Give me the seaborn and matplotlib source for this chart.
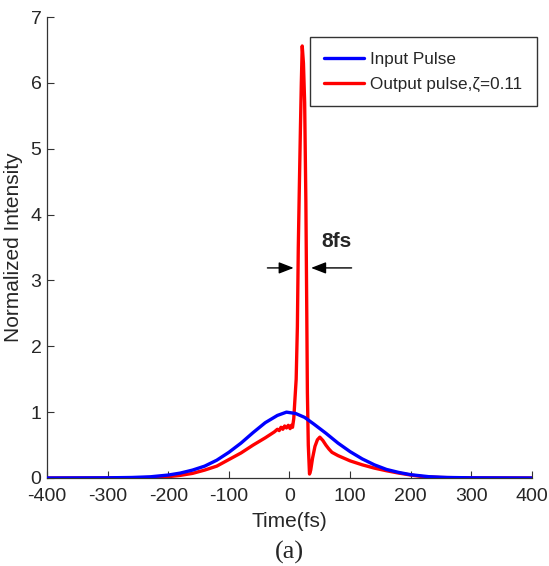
import numpy as np
import pandas as pd
import matplotlib
matplotlib.use("Agg")
import matplotlib.pyplot as plt
import seaborn as sns

# ---------------- data ----------------
t_in = [-400, -300, -260, -230, -200, -180, -160, -140, -120, -100, -80, -60, -40, -20, -5,
        10, 25, 40, 60, 80, 100, 120, 140, 160, 180, 200, 230, 260, 300, 400]
i_in = [0, 0.003, 0.008, 0.018, 0.045, 0.075, 0.12, 0.18, 0.27, 0.39, 0.53, 0.69, 0.84, 0.95, 1.0,
        0.98, 0.92, 0.82, 0.68, 0.53, 0.40, 0.29, 0.20, 0.13, 0.085, 0.05, 0.02, 0.008, 0.003, 0]

t_out = [-400, -250, -220, -200, -180, -160, -140, -120, -100, -80, -60, -40, -30, -25, -20, -17,
         -14, -11, -8, -5, -2, 1, 3, 5, 7, 9, 11, 13, 14.5, 16, 18, 19.5, 21, 23, 25, 27, 28.5,
         29.5, 31, 33, 35, 38, 42, 46, 50, 55, 60, 65, 70, 80, 100, 120, 140, 160, 180, 200,
         220, 250, 300, 400]
i_out = [0, 0.003, 0.01, 0.02, 0.04, 0.07, 0.12, 0.18, 0.28, 0.38, 0.50, 0.61, 0.67, 0.70, 0.74, 0.72,
         0.77, 0.74, 0.79, 0.76, 0.80, 0.75, 0.80, 0.77, 0.9, 1.2, 1.5, 2.3, 3.5, 4.3, 5.3, 6.0,
         6.56, 6.3, 5.7, 4.2, 2.5, 1.3, 0.5, 0.06, 0.12, 0.3, 0.48, 0.58, 0.62, 0.57, 0.5, 0.44,
         0.39, 0.34, 0.26, 0.2, 0.15, 0.11, 0.075, 0.045, 0.02, 0.007, 0.002, 0]

series_labels = ["Input Pulse", "Output pulse,\u03b6=0.11"]
x_ticks = [-400, -300, -200, -100, 0, 100, 200, 300, 400]
y_ticks = [0, 1, 2, 3, 4, 5, 6, 7]

df = pd.concat([
    pd.DataFrame({"t": t_in, "I": i_in, "s": series_labels[0]}),
    pd.DataFrame({"t": t_out, "I": i_out, "s": series_labels[1]}),
], ignore_index=True)

# ---------------- style ----------------
sns.set_style("ticks")
plt.rcParams["font.family"] = ["Liberation Sans", "DejaVu Sans"]
plt.rcParams["axes.unicode_minus"] = False
plt.rcParams["xtick.direction"] = "in"
plt.rcParams["ytick.direction"] = "in"

fig = plt.figure(figsize=(5.49, 5.66), dpi=100)
ax = fig.add_axes([47 / 549, 1 - 478 / 566, (532 - 47) / 549, (478 - 17) / 566])

sns.lineplot(data=df, x="t", y="I", hue="s", sort=False, estimator=None,
             palette={series_labels[0]: "#0000ff", series_labels[1]: "#ff0000"},
             linewidth=2.4, ax=ax)
ax.lines[0].set_zorder(3)
ax.lines[1].set_zorder(2.5)

ax.set_xlim(-400, 400)
ax.set_ylim(0, 7)
ax.set_xticks(x_ticks)
ax.set_yticks(y_ticks)
ax.tick_params(axis="both", labelsize=14, length=5, width=0.8, color="#333333")
ax.tick_params(axis="x", pad=7)
ax.tick_params(axis="y", pad=4)
for s in ["top", "right"]:
    ax.spines[s].set_visible(False)
for s in ["left", "bottom"]:
    ax.spines[s].set_color("#333333")
    ax.spines[s].set_linewidth(0.9)

ax.set_xlabel("Time(fs)", fontsize=15, labelpad=5)
ax.set_ylabel("Normalized Intensity", fontsize=15, labelpad=5)

leg = ax.legend(loc="upper right", bbox_to_anchor=((537 - 47) / 485, (478 - 37) / 461),
                borderaxespad=0, fontsize=12.3,
                frameon=True, fancybox=False, framealpha=1, handlelength=2.35, handletextpad=0.35,
                borderpad=0.85, labelspacing=0.6)
leg.get_frame().set_edgecolor("#333333")
leg.get_frame().set_linewidth(1.0)
leg.set_title(None)
leg.set_zorder(5)
for h in leg.get_lines():
    h.set_linewidth(2.4)

# FWHM arrows
ax.annotate("", xy=(11.5, 3.19), xytext=(-41, 3.19),
            arrowprops=dict(arrowstyle="-|>,head_length=0.9,head_width=0.35", color="black", lw=1.0))
ax.annotate("", xy=(31, 3.19), xytext=(107, 3.19),
            arrowprops=dict(arrowstyle="-|>,head_length=0.9,head_width=0.35", color="black", lw=1.0))
ax.text(77, 3.59, "8fs", fontsize=15, fontweight="bold", ha="center", va="center")

fig.text(0.5 * (47 + 532) / 549, 1 - 552 / 566, "(a)", ha="center", va="center",
         fontsize=19, family=["Liberation Serif", "DejaVu Serif"])

fig.savefig("out.png", dpi=100)
